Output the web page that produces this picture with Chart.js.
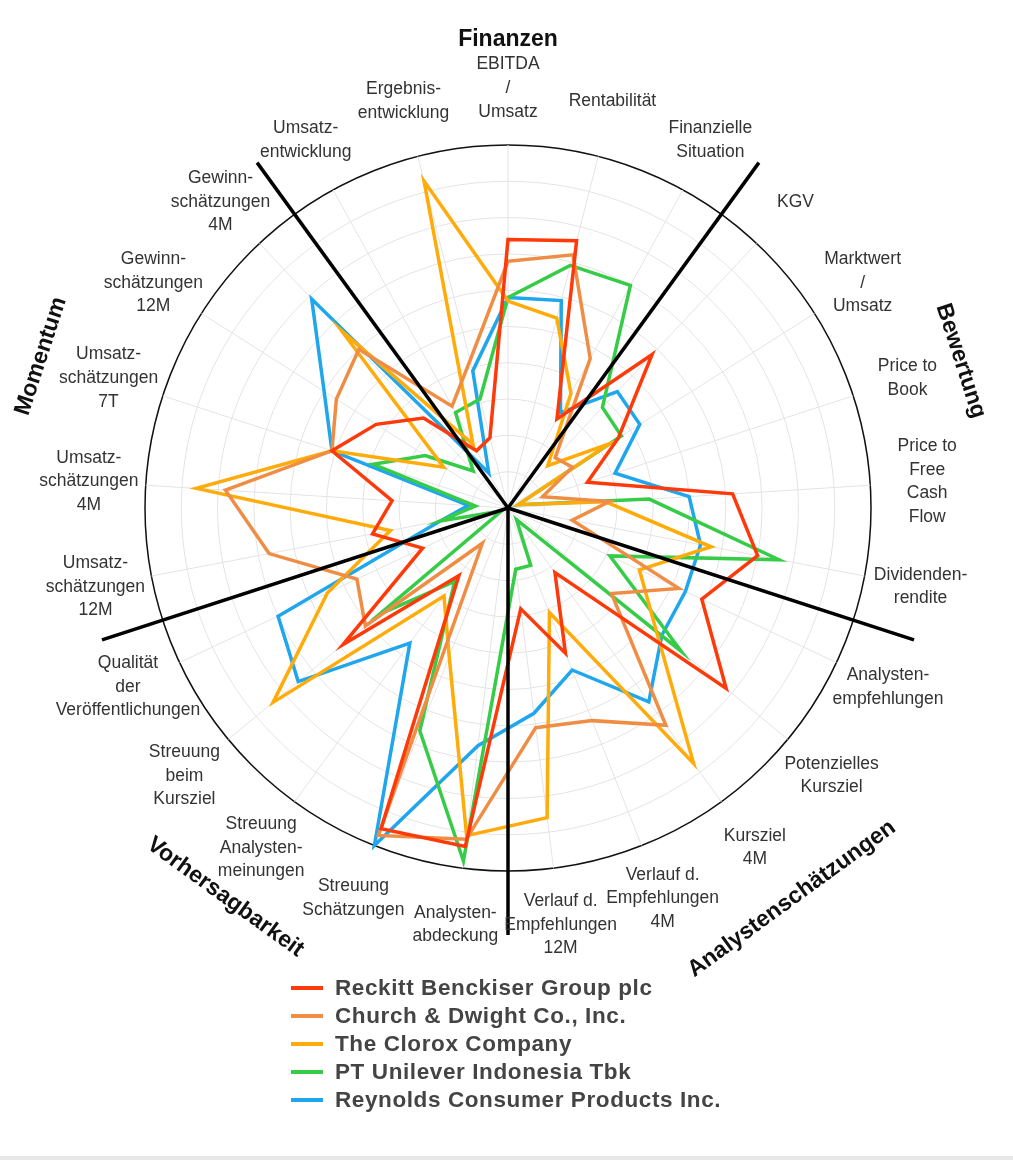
<!DOCTYPE html>
<html>
<head>
<meta charset="utf-8">
<script src="https://cdn.jsdelivr.net/npm/chart.js@4.4.1/dist/chart.umd.min.js"></script>
<style>
  body { margin: 0; background: #fff; font-family: "Liberation Sans", Arial, sans-serif; }
  #wrap { position: relative; width: 1013px; height: 1160px; overflow: hidden; }
  #chart { position: absolute; left: 0; top: 0; }
  #legend { position: absolute; left: 291px; top: 974px; }
  .row { display: flex; align-items: center; height: 28px; }
  .mark { width: 32px; height: 4px; margin-right: 12px; }
  .txt { font-weight: bold; font-size: 22.5px; letter-spacing: 0.6px; color: #444; white-space: nowrap; }
  #bottomline { position: absolute; left: 0; top: 1156px; width: 1013px; height: 4px; background: #e8e8e8; }
</style>
</head>
<body>
<div id="wrap">
  <canvas id="chart" width="1013" height="980"></canvas>
  <div id="legend"></div>
  <div id="bottomline"></div>
</div>
<script>
const criteria = [
  ["EBITDA", "/", "Umsatz"], ["Rentabilität"], ["Finanzielle", "Situation"], ["KGV"],
  ["Marktwert", "/", "Umsatz"], ["Price to", "Book"], ["Price to", "Free", "Cash", "Flow"],
  ["Dividenden-", "rendite"], ["Analysten-", "empfehlungen"], ["Potenzielles", "Kursziel"],
  ["Kursziel", "4M"], ["Verlauf d.", "Empfehlungen", "4M"], ["Verlauf d.", "Empfehlungen", "12M"],
  ["Analysten-", "abdeckung"], ["Streuung", "Schätzungen"], ["Streuung", "Analysten-", "meinungen"],
  ["Streuung", "beim", "Kursziel"], ["Qualität", "der", "Veröffentlichungen"],
  ["Umsatz-", "schätzungen", "12M"], ["Umsatz-", "schätzungen", "4M"], ["Umsatz-", "schätzungen", "7T"],
  ["Gewinn-", "schätzungen", "12M"], ["Gewinn-", "schätzungen", "4M"],
  ["Umsatz-", "entwicklung"], ["Ergebnis-", "entwicklung"]
];

// group name, index of the axis it is centred on, last axis index of the group
const groupNames = ["Finanzen", "Bewertung", "Analystenschätzungen", "Vorhersagbarkeit", "Momentum"];
const groupCenters = [0, 5, 10, 15, 20];
const groupEnds = [2, 7, 12, 17, 22];

const companies = [
  "Reckitt Benckiser Group plc",
  "Church & Dwight Co., Inc.",
  "The Clorox Company",
  "PT Unilever Indonesia Tbk",
  "Reynolds Consumer Products Inc."
];
const colors = ["#ff3a0a", "#ef8d45", "#ffab0a", "#36cc48", "#1fa6ec"];

const reckitt = [74, 76, 28, 58, 36, 23, 62, 70, 59, 78, 22, 43, 28, 94, 95, 23, 59, 26, 38, 32, 51, 43, 34, 18, 20];
const church = [68, 72, 47, 19, 21, 10, 28, 18, 52, 37, 74, 63, 61, 92, 97, 12, 51, 46, 67, 78, 51, 56, 60, 32, 42];
const clorox = [57, 54, 36, 16, 33, 3, 27, 57, 40, 53, 87, 31, 86, 91, 44, 30, 84, 55, 33, 86, 51, 21, 67, 20, 93];
const unilever = [58, 69, 70, 38, 37, 3, 39, 76, 31, 62, 4, 17, 17, 98, 66, 25, 46, 2, 19, 9, 39, 27, 14, 30, 31];
const reynolds = [58, 59, 30, 44, 43, 31, 50, 54, 54, 55, 66, 48, 57, 66, 100, 46, 75, 70, 19, 11, 51, 60, 79, 11, 39];

const series = [reckitt, church, clorox, unilever, reynolds];
const FONT = '"Liberation Sans", Arial, sans-serif';

const radarExtras = {
  id: "radarExtras",
  afterDatasetsDraw(chart) {
    const ctx = chart.ctx;
    const scale = chart.scales.r;

    // black group separators
    ctx.save();
    ctx.strokeStyle = "#000";
    ctx.lineWidth = 3.5;
    groupEnds.forEach(function (i) {
      let p = scale.getPointPosition(i + 0.5, scale.drawingArea * 1.176);
      ctx.beginPath();
      ctx.moveTo(scale.xCenter, scale.yCenter);
      ctx.lineTo(p.x, p.y);
      ctx.stroke();
    });
    ctx.restore();
  },
  afterDraw(chart) {
    const ctx = chart.ctx;
    const scale = chart.scales.r;

    // axis labels, centred lines
    ctx.save();
    ctx.fillStyle = "#333";
    ctx.font = "17.5px " + FONT;
    ctx.textAlign = "center";
    ctx.textBaseline = "middle";
    const lh = 23.7;
    criteria.forEach(function (lines, i) {
      let p = scale.getPointPosition(i, scale.drawingArea + 57);
      let y0 = p.y - (lines.length - 1) * lh / 2;
      lines.forEach(function (t, k) {
        ctx.fillText(t, p.x, y0 + k * lh);
      });
    });
    ctx.restore();

    // group titles along the circle
    const titleGap = [105, 113, 120, 118, 128];
    ctx.save();
    ctx.fillStyle = "#111";
    ctx.font = "bold 23px " + FONT;
    ctx.textAlign = "center";
    ctx.textBaseline = "middle";
    groupNames.forEach(function (name, g) {
      let idx = groupCenters[g];
      let p = scale.getPointPosition(idx, scale.drawingArea + titleGap[g]);
      let deg = idx * 360 / criteria.length;
      if (deg > 90 && deg < 270) {
        deg -= 180;
      } else if (deg >= 270) {
        deg -= 360;
      }
      ctx.save();
      ctx.translate(p.x, p.y);
      ctx.rotate(deg * Math.PI / 180);
      ctx.fillText(name, 0, 0);
      ctx.restore();
    });
    ctx.restore();
  }
};

let ctx = document.getElementById("chart").getContext("2d");
let chart = new Chart(ctx, {
  type: "radar",
  data: {
    labels: criteria,
    datasets: companies.map(function (name, i) {
      return {
        label: name,
        data: series[i],
        borderColor: colors[i],
        backgroundColor: colors[i],
        borderWidth: 3.5,
        pointRadius: 0,
        pointHoverRadius: 0,
        fill: false,
        tension: 0
      };
    })
  },
  options: {
    responsive: false,
    animation: false,
    devicePixelRatio: 1,
    layout: { padding: { left: 145, right: 142, top: 145, bottom: 109 } },
    plugins: {
      legend: { display: false },
      tooltip: { enabled: false }
    },
    scales: {
      r: {
        min: 0,
        max: 100,
        ticks: { display: false, stepSize: 10 },
        pointLabels: { display: false },
        angleLines: { color: "#e4e4e4", lineWidth: 1 },
        grid: {
          circular: true,
          color: function (c) {
            return c.tick && c.tick.value === 100 ? "#111" : "#e4e4e4";
          },
          lineWidth: function (c) {
            return c.tick && c.tick.value === 100 ? 1.5 : 1;
          }
        }
      }
    }
  },
  plugins: [radarExtras]
});

let legend = document.getElementById("legend");
chart.data.datasets.forEach(function (ds) {
  let row = document.createElement("div");
  row.className = "row";
  row.innerHTML = '<span class="mark" style="background:' + ds.borderColor + '"></span><span class="txt">' +
    ds.label.replace(/&/g, "&amp;") + "</span>";
  legend.appendChild(row);
});
</script>
</body>
</html>
